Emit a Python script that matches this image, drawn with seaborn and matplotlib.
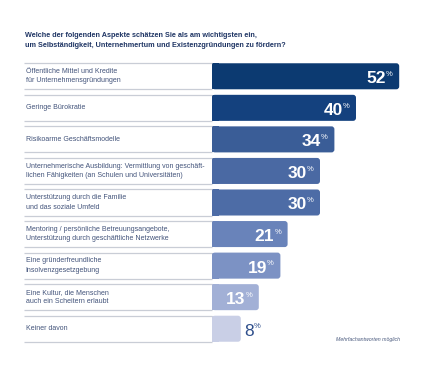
import matplotlib.pyplot as plt
import seaborn as sns
from matplotlib.patches import FancyBboxPatch, Rectangle

# Data
labels = [
    'Öffentliche Mittel und Kredite\nfür Unternehmensgründungen',
    'Geringe Bürokratie',
    'Risikoarme Geschäftsmodelle',
    'Unternehmerische Ausbildung: Vermittlung von geschäft-\nlichen Fähigkeiten (an Schulen und Universitäten)',
    'Unterstützung durch die Familie\nund das soziale Umfeld',
    'Mentoring / persönliche Betreuungsangebote,\nUnterstützung durch geschäftliche Netzwerke',
    'Eine gründerfreundliche\nInsolvenzgesetzgebung',
    'Eine Kultur, die Menschen\nauch ein Scheitern erlaubt',
    'Keiner davon',
]
values = [52, 40, 34, 30, 30, 21, 19, 13, 8]
colors = ['#0c3a71', '#14417e', '#3a5d97', '#4a69a3', '#4d6ca6',
          '#6983ba', '#7c92c4', '#a2b0d6', '#c9cfe6']

title = ('Welche der folgenden Aspekte schätzen Sie als am wichtigsten ein,\n'
         'um Selbständigkeit, Unternehmertum und Existenzgründungen zu fördern?')
note = 'Mehrfachantworten möglich'

sns.set_style('white')
plt.rcParams['font.family'] = ['Liberation Sans', 'DejaVu Sans']

W, H = 425, 366
fig = plt.figure(figsize=(W / 100, H / 100), dpi=100)
# bars start at x=212px, 3.6px per percent
ax = fig.add_axes([212 / W, (H - 344.5) / H, 208 / W, 284 / H])

bar_h = 0.825
sns.barplot(x=values, y=labels, hue=labels, palette=colors, legend=False,
            orient='h', width=bar_h, saturation=1, ax=ax)
ax.set_xlim(0, 208 / 3.6)
ax.set_ylim(8.5, -0.5)
ax.set_xlabel('')
ax.set_ylabel('')
ax.set_xticks([])
ax.set_yticks([])
for s in ax.spines.values():
    s.set_visible(False)

# round the right corners of the bars
bars = list(ax.patches)
for p in bars:
    x, y, w, h = p.get_x(), p.get_y(), p.get_width(), p.get_height()
    fc = p.get_facecolor()
    p.remove()
    ax.add_patch(FancyBboxPatch((x, y), w, h,
                                boxstyle='round,pad=0,rounding_size=0.8',
                                mutation_aspect=0.115, fc=fc, ec='none', lw=0))
    ax.add_patch(Rectangle((x, y), min(w, 2), h, fc=fc, ec='none', lw=0))

ytr = ax.get_yaxis_transform()
x_left = (24 - 212) / 208
x_text = (25.5 - 212) / 208
for i, (lab, v) in enumerate(zip(labels, values)):
    for yy in (i - bar_h / 2, i + bar_h / 2):
        ax.plot([x_left, 0], [yy, yy], transform=ytr, color='#c9cdd6',
                lw=0.9, clip_on=False, solid_capstyle='butt')
    ax.text(x_text, i, lab, transform=ytr, ha='left', va='center',
            fontsize=5, color='#42537a', linespacing=1.45)
    if v >= 10:
        ax.annotate(str(v), xy=(v, i), xytext=(-9.6, -5), textcoords='offset points',
                    ha='right', va='baseline', fontsize=12.5, fontweight='bold',
                    color='white')
        ax.annotate('%', xy=(v, i), xytext=(-9.6, 0.2), textcoords='offset points',
                    ha='left', va='baseline', fontsize=5.5, color='white')
    else:
        ax.annotate(str(v), xy=(v, i), xytext=(2.4, -5), textcoords='offset points',
                    ha='left', va='baseline', fontsize=12.5, color='#2f4f8c')
        ax.annotate('%', xy=(v, i), xytext=(9.6, 0.2), textcoords='offset points',
                    ha='left', va='baseline', fontsize=5.5, color='#2f4f8c')

fig.text(25 / W, 1 - 40.7 / H, title, ha='left', va='center', fontsize=5.2,
         fontweight='bold', color='#1f3564', linespacing=1.5)
fig.text(400 / W, 1 - 339.5 / H, note, ha='right', va='center', fontsize=3.8,
         style='italic', color='#4a5a7e')

fig.savefig('out.png', dpi=100, facecolor='white')
